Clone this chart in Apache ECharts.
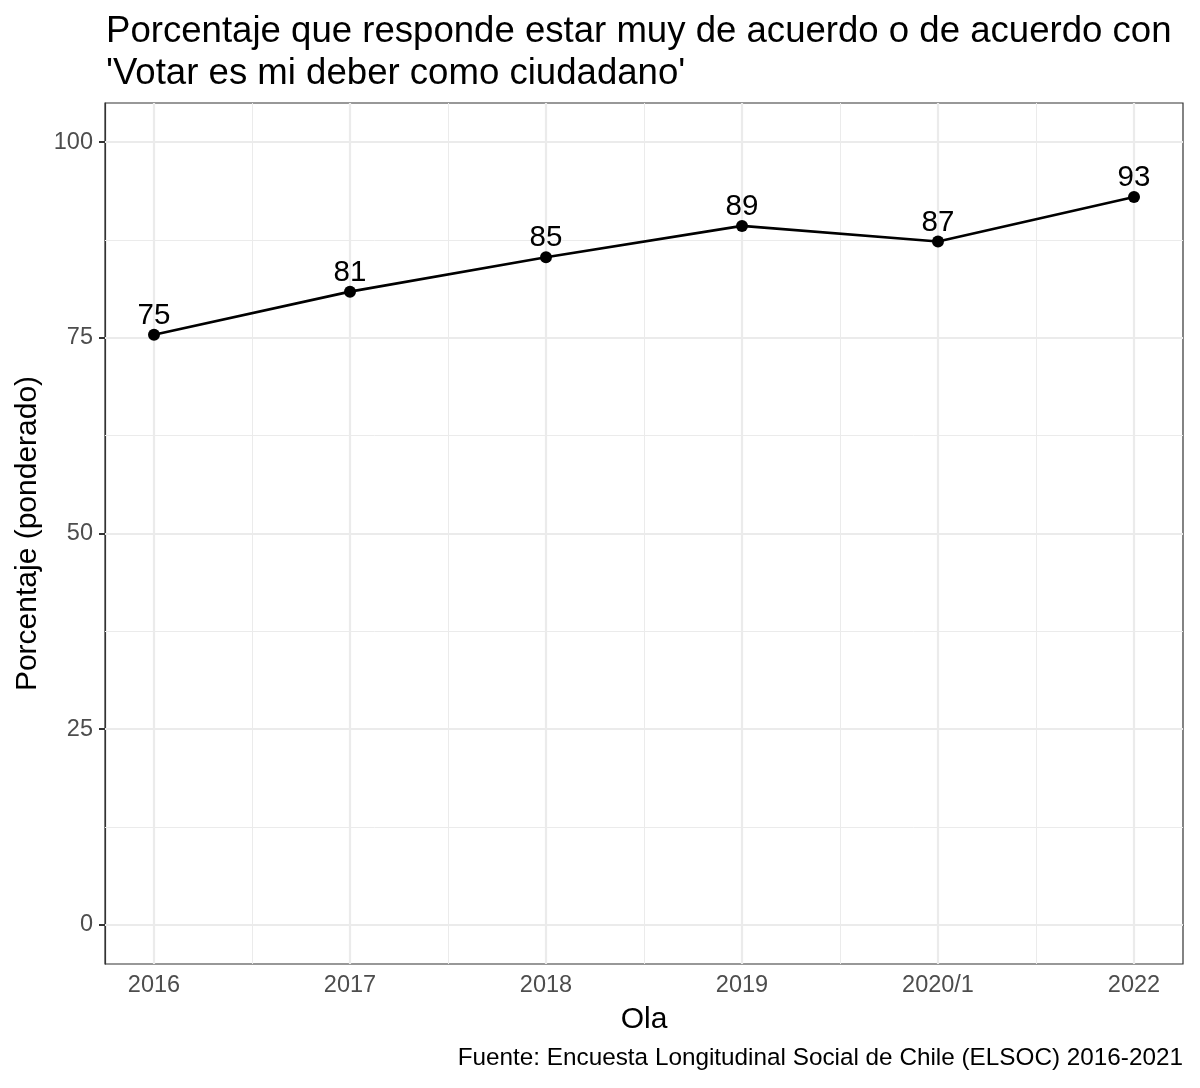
<!DOCTYPE html>
<html><head><meta charset="utf-8">
<script src="https://cdn.jsdelivr.net/npm/echarts@6/dist/echarts.min.js"></script>
<style>html,body{margin:0;padding:0;background:#fff}#c{width:1200px;height:1088px}</style>
</head><body><div id="c"></div>
<script>
const categories = ['2016','2017','2018','2019','2020/1','2022'];
const values = [75.4, 80.9, 85.3, 89.3, 87.3, 93.0];
const yTicks = [0, 25, 50, 75, 100];
const yMinor = [12.5, 37.5, 62.5, 87.5];
const xPos = [1, 2, 3, 4, 5, 6];
const xMinor = [1.5, 2.5, 3.5, 4.5, 5.5];
const FONT = '"Liberation Sans", Arial, sans-serif';

const chart = echarts.init(document.getElementById('c'), null, {renderer: 'canvas'});
const gridLine = (arr, axis, w) => arr.map(v => ({[axis]: v, lineStyle: {width: w}}));
chart.setOption({
  animation: false,
  textStyle: {fontFamily: FONT},
  title: [{
    text: "Porcentaje que responde estar muy de acuerdo o de acuerdo con\n'Votar es mi deber como ciudadano'",
    left: 101, top: 6,
    textStyle: {fontFamily: FONT, fontSize: 36.6, fontWeight: 'normal', color: '#000', lineHeight: 42}
  }, {
    text: 'Fuente: Encuesta Longitudinal Social de Chile (ELSOC) 2016-2021',
    right: 12, bottom: 13,
    textStyle: {fontFamily: FONT, fontSize: 24.3, fontWeight: 'normal', color: '#000'}
  }],
  grid: {left: 105, right: 17, top: 103, bottom: 124, show: true, borderColor: '#333', borderWidth: 1.2, backgroundColor: '#fff', containLabel: false},
  xAxis: {
    type: 'value', min: 0.75, max: 6.25,
    name: 'Ola', nameLocation: 'middle', nameGap: 41,
    nameTextStyle: {fontFamily: FONT, fontSize: 30, color: '#000'},
    axisLine: {show: true, lineStyle: {color: '#333', width: 1.2}},
    axisTick: {show: true, length: 6, lineStyle: {color: '#333', width: 2}, customValues: xPos},
    axisLabel: {customValues: xPos, formatter: v => categories[Math.round(v) - 1] || '', fontFamily: FONT, fontSize: 23.5, color: '#4D4D4D', margin: 10},
    splitLine: {show: false}
  },
  yAxis: {
    type: 'value', min: -5, max: 105,
    name: 'Porcentaje (ponderado)', nameLocation: 'middle', nameGap: 60,
    nameTextStyle: {fontFamily: FONT, fontSize: 30, color: '#000'},
    axisLine: {show: true, lineStyle: {color: '#333', width: 1.2}},
    axisTick: {show: true, length: 6, lineStyle: {color: '#333', width: 2}, customValues: yTicks},
    axisLabel: {customValues: yTicks, fontFamily: FONT, fontSize: 23.5, color: '#4D4D4D', margin: 12},
    splitLine: {show: false}
  },
  series: [{
    type: 'line', data: [], z: 1, silent: true,
    markLine: {
      silent: true, symbol: 'none', label: {show: false}, animation: false,
      lineStyle: {color: '#EBEBEB', type: 'solid', width: 1},
      data: [].concat(
        gridLine(yMinor, 'yAxis', 1), gridLine(xMinor, 'xAxis', 1),
        gridLine(yTicks, 'yAxis', 2.2), gridLine(xPos, 'xAxis', 2.2)
      )
    }
  }, {
    type: 'line', z: 5,
    data: values.map((v, i) => [xPos[i], v]),
    lineStyle: {color: '#000', width: 2.6},
    itemStyle: {color: '#000'},
    symbol: 'circle', symbolSize: 12, showAllSymbol: true,
    label: {show: true, position: 'top', distance: -2, formatter: p => Math.round(p.value[1]), fontFamily: FONT, fontSize: 29.5, color: '#000'}
  }]
});
</script></body></html>
